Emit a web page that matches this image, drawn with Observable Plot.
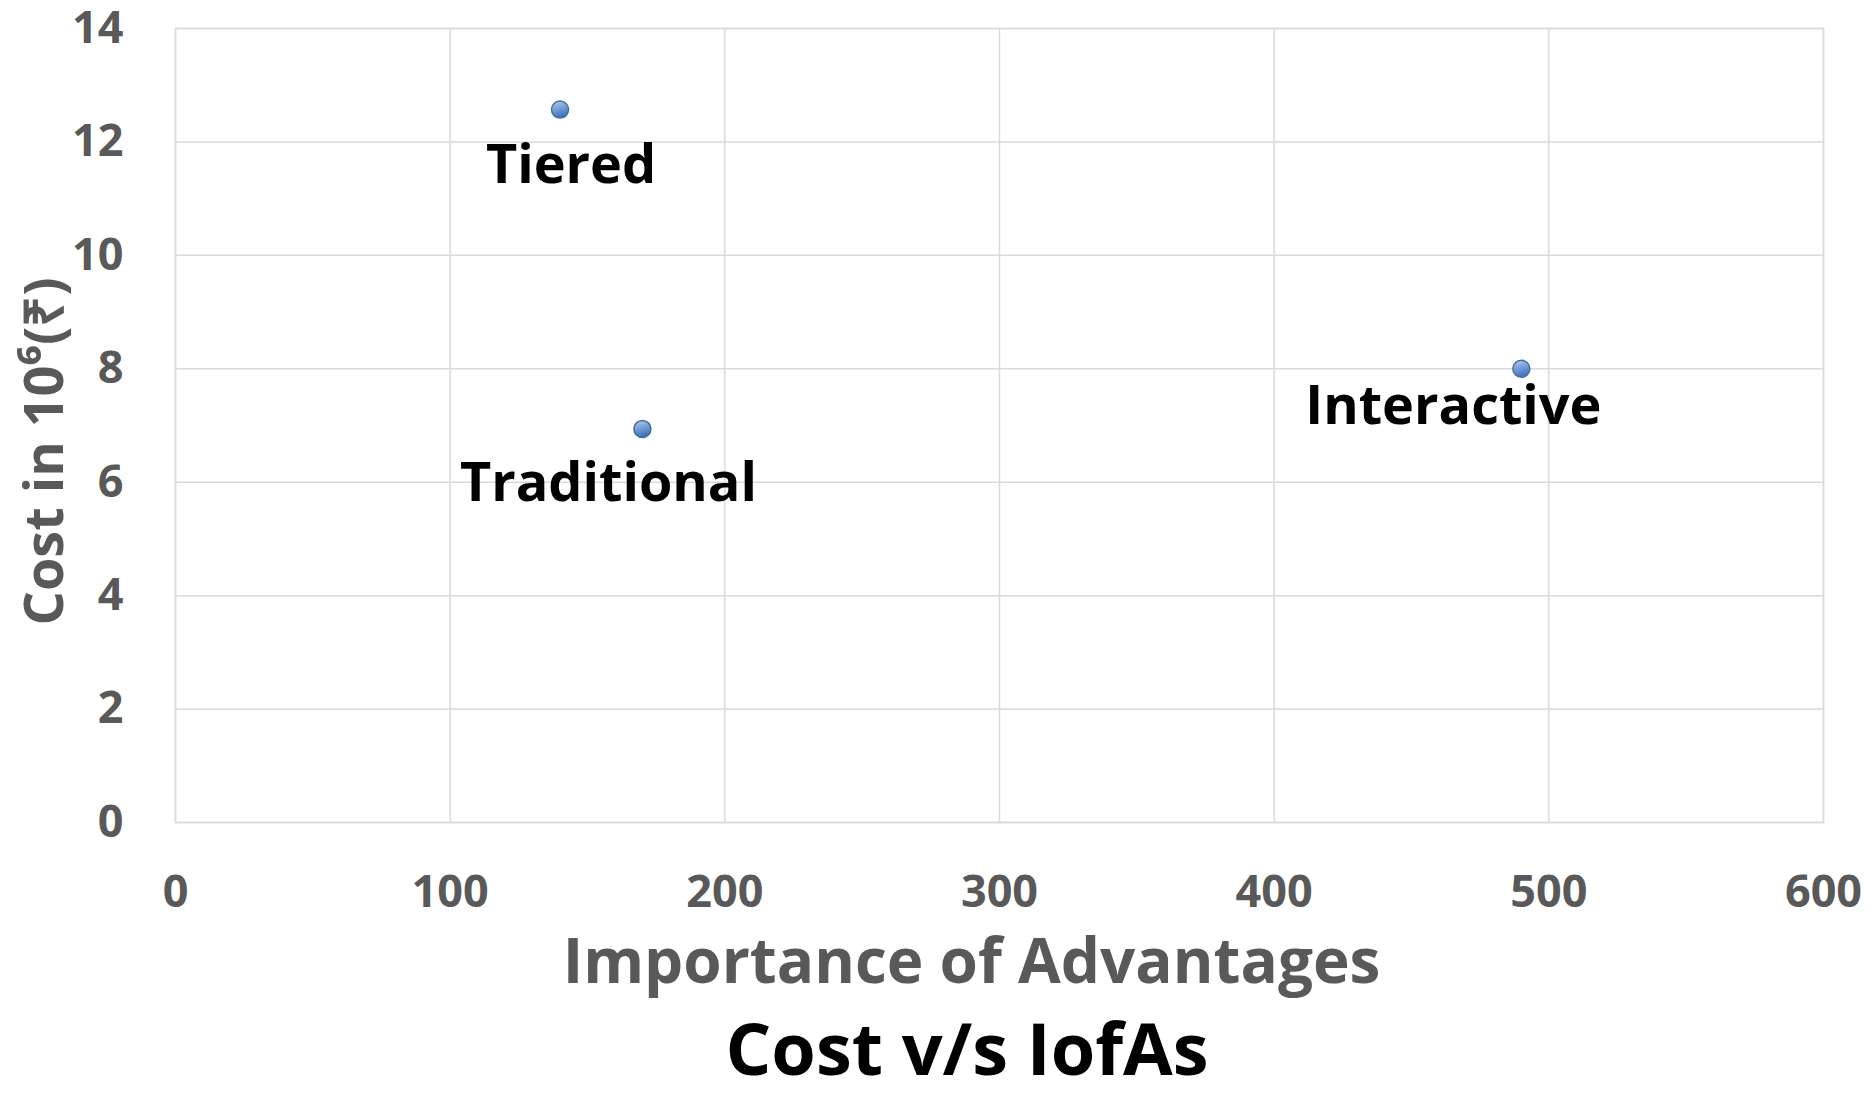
<!DOCTYPE html>
<html><head><meta charset="utf-8">
<script src="https://cdn.jsdelivr.net/npm/d3@7"></script>
<script src="https://cdn.jsdelivr.net/npm/@observablehq/plot@0.6"></script>
<style>
body{margin:0;background:#fff;font-family:"Open Sans",sans-serif;}
#chart svg{display:block;}
#title{font-weight:700;font-size:72px;color:#000;text-align:center;padding-left:59px;padding-top:2px;line-height:90px;height:91px;white-space:nowrap;}
</style></head><body>
<div id="chart"></div>
<div id="title"></div>
<script>
const names = ["Tiered", "Traditional", "Interactive"];
const importance = [140, 170, 490];
const cost = [12.57, 6.94, 8.0];
const xTicks = [0, 100, 200, 300, 400, 500, 600];
const yTicks = [0, 2, 4, 6, 8, 10, 12, 14];
const xTitle = "Importance of Advantages";
const yTitle = "Cost in 10⁶(₹)";
const chartTitle = "Cost v/s IofAs";

const data = names.map((n, i) => ({name: n, x: importance[i], y: cost[i]}));
const labelOffsets = {Tiered: [11, 56], Traditional: [-34, 55], Interactive: [-68, 38]};
const grey = "#595959";
const gridColor = "#d9d9d9";

const plot = Plot.plot({
  width: 1875, height: 1000,
  marginLeft: 175, marginRight: 52, marginTop: 28, marginBottom: 178,
  style: {fontFamily: "'Open Sans', sans-serif", background: "#fff", overflow: "visible"},
  x: {domain: [0, 600]},
  y: {domain: [0, 14]},
  marks: [
    Plot.gridX(xTicks, {stroke: gridColor, strokeOpacity: 1, strokeWidth: 1.5}),
    Plot.gridY(yTicks, {stroke: gridColor, strokeOpacity: 1, strokeWidth: 1.5}),
    Plot.frame({stroke: gridColor, strokeWidth: 1.5}),
    Plot.axisX(xTicks, {tickSize: 0, tickPadding: 53, fontSize: 45, fontWeight: 700, fill: grey, label: null, tickFormat: d => String(d)}),
    Plot.axisY(yTicks, {tickSize: 0, tickPadding: 52, fontSize: 45, fontWeight: 700, fill: grey, label: null, tickFormat: d => String(d)}),
    Plot.dot(data, {x: "x", y: "y", r: 8.5, fill: "url(#dotGrad)", stroke: "#41719c", strokeWidth: 1.5}),
    ...names.map(n => Plot.text(data.filter(d => d.name === n), {
      x: "x", y: "y", text: "name", dx: labelOffsets[n][0], dy: labelOffsets[n][1],
      fontSize: 54, fontWeight: 700, fill: "#000"
    })),
    Plot.text([xTitle], {frameAnchor: "bottom", textAnchor: "middle", lineAnchor: "middle", dx: -28, dy: 141, fontSize: 62, fontWeight: 700, fill: grey}),
    Plot.text([yTitle], {frameAnchor: "left", textAnchor: "middle", lineAnchor: "middle", rotate: -90, dx: -130, dy: 26, fontSize: 54, fontWeight: 700, fill: grey})
  ]
});

const defs = document.createElementNS("http://www.w3.org/2000/svg", "defs");
defs.innerHTML = `<linearGradient id="dotGrad" x1="0" y1="0" x2="0.3" y2="1">
  <stop offset="0%" stop-color="#b7cdf0"/><stop offset="100%" stop-color="#3f72c0"/></linearGradient>`;
plot.insertBefore(defs, plot.firstChild);
document.getElementById("chart").appendChild(plot);
document.getElementById("title").textContent = chartTitle;
</script>
</body></html>
